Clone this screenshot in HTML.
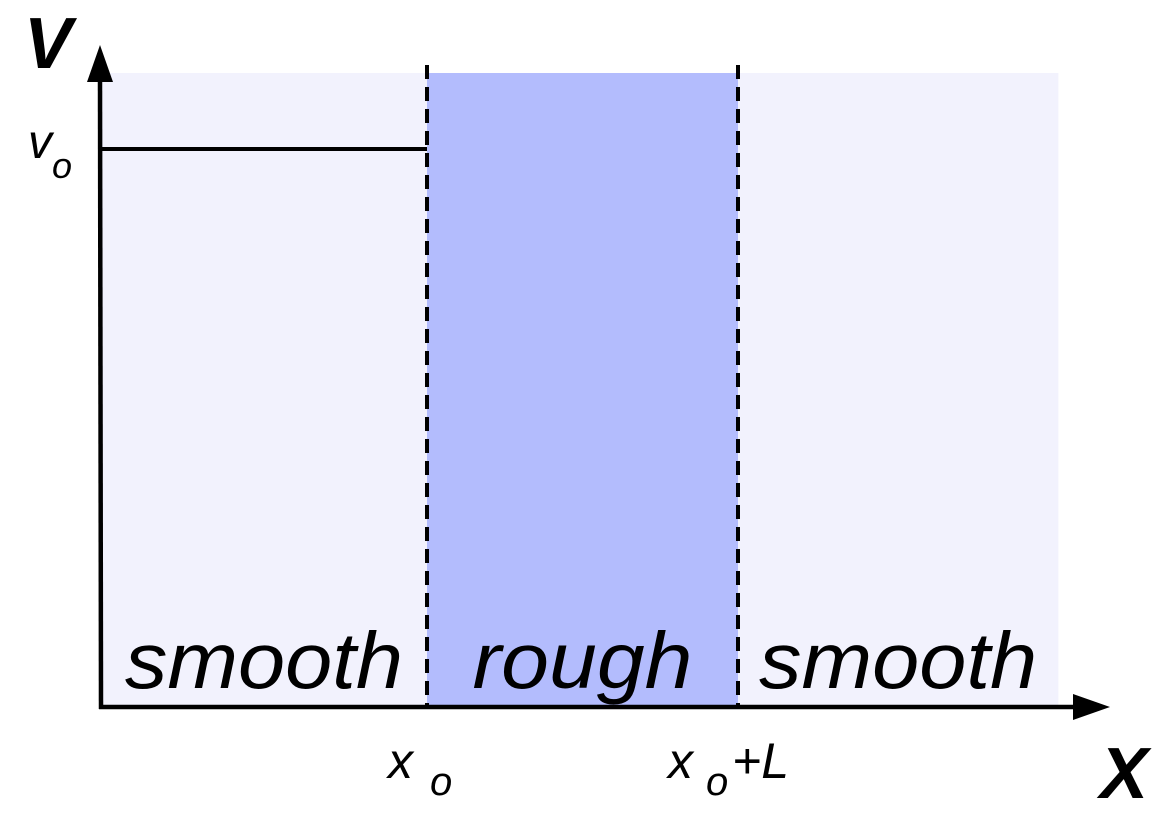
<!DOCTYPE html>
<html><head><meta charset="utf-8"><style>
html,body{margin:0;padding:0;background:#fff;width:1171px;height:821px;overflow:hidden}
text{font-family:"Liberation Sans",sans-serif;fill:#000}
</style></head><body>
<svg width="1171" height="821" viewBox="0 0 1171 821">
<g id="chart"></g>
<line x1="100" y1="80" x2="101" y2="709" stroke="#000" stroke-width="4.5"/>
<polygon points="100,45 87,82 113,82" fill="#000"/>
<line x1="99" y1="707" x2="1078" y2="707" stroke="#000" stroke-width="4.5"/>
<polygon points="1110,707 1073,694 1073,720" fill="#000"/>
<text x="24" y="68" font-size="72" font-weight="bold" font-style="italic">V</text>
<text x="28" y="158" font-size="48" font-style="italic">v</text>
<text x="52" y="178" font-size="36" font-style="italic">o</text>
<text x="388" y="778" font-size="50" font-style="italic">x</text>
<text x="430" y="795" font-size="40" font-style="italic">o</text>
<text x="668" y="778" font-size="50" font-style="italic">x</text>
<text x="706" y="795" font-size="40" font-style="italic">o</text>
<text x="732" y="778" font-size="50" font-style="italic">+L</text>
<text x="1100" y="798" font-size="72" font-weight="bold" font-style="italic">X</text>
</svg>
<script>
const regionNames = ["smooth","rough","smooth"];
const regionEdges = [0, 1, 2, 3.03];
const v0Value = 1;

const NS="http://www.w3.org/2000/svg";
const g=document.getElementById('chart');
const X0=101, XS=311, Y0=707, YS=558;
function sx(v){ return v<=1 ? X0+v*326 : 427+(v-1)*XS; }
function sy(v){ return Y0-v*YS; }
function mk(t,a){const e=document.createElementNS(NS,t);for(const k in a)e.setAttribute(k,a[k]);g.appendChild(e);return e;}
const colors=["#f2f2fd","#b3bcfd","#f2f2fd"];
for(let i=0;i<regionNames.length;i++){
  const r=mk('rect',{x:sx(regionEdges[i]),y:73,width:sx(regionEdges[i+1])-sx(regionEdges[i]),height:707-73,fill:colors[i]});
  
  
}
for(let i=0;i<regionNames.length;i++){
  const cx=(sx(regionEdges[i])+sx(regionEdges[i+1]))/2;
  const t=mk('text',{x:cx,y:688,'text-anchor':'middle','font-size':80,'font-style':'italic',textLength:i==1?220:278,lengthAdjust:'spacingAndGlyphs'});
  t.textContent=regionNames[i];
  
  
}
for(let i=1;i<=2;i++){
  const l=mk('line',{x1:sx(regionEdges[i]),x2:sx(regionEdges[i]),y1:65,y2:707,stroke:'#000','stroke-width':4,'stroke-dasharray':'14,8'});
  
  
}
const vl=mk('line',{x1:X0,x2:sx(regionEdges[1]),y1:sy(v0Value),y2:sy(v0Value),stroke:'#000','stroke-width':4});


</script>
</body></html>
